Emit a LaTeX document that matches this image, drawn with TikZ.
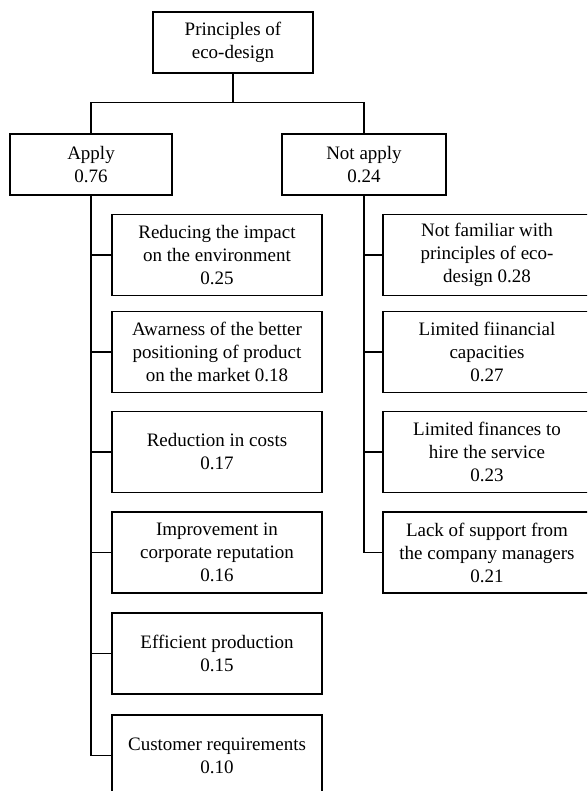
\documentclass[tikz,border=0pt]{standalone}
\usepackage{fontspec}
\setmainfont{Liberation Serif}
\usetikzlibrary{positioning}

\begin{document}
\begin{tikzpicture}[
    x=1pt, y=-1pt,
    box/.style={draw, line width=1.2pt, align=center, inner sep=2pt,
        font=\fontsize{19}{23}\selectfont},
    headbox/.style={box, minimum width=160pt, minimum height=61pt},
    choicebox/.style={box, minimum width=162pt, minimum height=61pt},
    reasonbox/.style={box, minimum width=210pt, minimum height=81pt},
    barrierbox/.style={box, minimum width=208pt, minimum height=81pt},
    trunk/.style={line width=2pt},
    link/.style={line width=1.1pt},
]
    \useasboundingbox (0,0) rectangle (587,791);
    \clip (0,0) rectangle (587,791);

    % Root
    \node[headbox] (root) at (233,42.5) {Principles of\\eco-design};

    % Apply / Not apply
    \node[choicebox] (apply) at (91,164.5) {Apply\\0.76};
    \node[choicebox, minimum width=164pt] (notapply) at (364,164.5) {Not apply\\0.24};

    % Fork
    \draw[trunk] (root.south) -- ++(0,29) coordinate (fork);
    \draw[link] (apply.north) |- (fork) -| (notapply.north);

    % Reasons to apply
    \node[reasonbox] (r1) at (217,255) {Reducing the impact\\on the environment\\0.25};
    \node[reasonbox] (r2) at (217,352) {Awarness of the better\\positioning of product\\on the market 0.18};
    \node[reasonbox] (r3) at (217,452) {Reduction in costs\\0.17};
    \node[reasonbox] (r4) at (217,552.5) {Improvement in\\corporate reputation\\0.16};
    \node[reasonbox] (r5) at (217,653.5) {Efficient production\\0.15};
    \node[reasonbox] (r6) at (217,755.5) {Customer requirements\\0.10};

    % Reasons not to apply
    \node[barrierbox] (b1) at (487,255) {Not familiar with\\principles of eco-\\design 0.28};
    \node[barrierbox] (b2) at (487,352) {Limited fiinancial\\capacities\\0.27};
    \node[barrierbox] (b3) at (487,452) {Limited finances to\\hire the service\\0.23};
    \node[barrierbox] (b4) at (487,552.5) {Lack of support from\\the company managers\\0.21};

    % Apply branch
    \draw[link] (apply.south) |- (r6.west);
    \draw[link] (apply.south |- r1.west) -- (r1.west);
    \draw[link] (apply.south |- r2.west) -- (r2.west);
    \draw[link] (apply.south |- r3.west) -- (r3.west);
    \draw[link] (apply.south |- r4.west) -- (r4.west);
    \draw[link] (apply.south |- r5.west) -- (r5.west);

    % Not apply branch
    \draw[link] (notapply.south) |- (b4.west);
    \draw[link] (notapply.south |- b1.west) -- (b1.west);
    \draw[link] (notapply.south |- b2.west) -- (b2.west);
    \draw[link] (notapply.south |- b3.west) -- (b3.west);

\end{tikzpicture}
\end{document}
